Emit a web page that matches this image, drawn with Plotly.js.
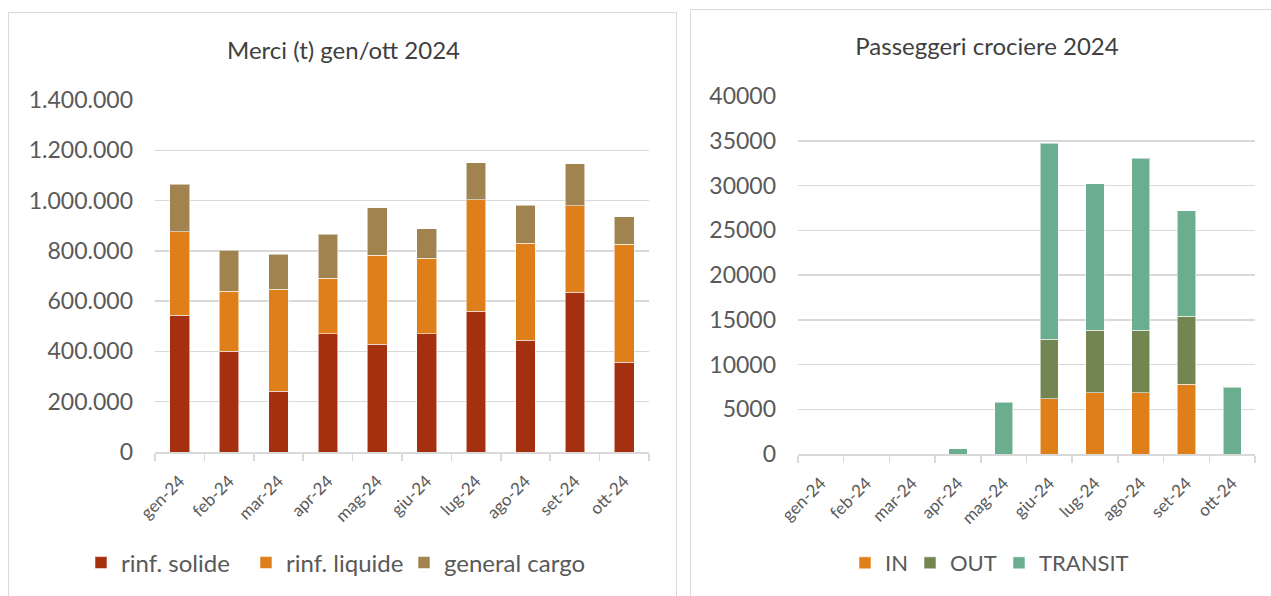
<!DOCTYPE html>
<html>
<head>
<meta charset="utf-8">
<script src="https://cdn.plot.ly/plotly-3.0.1.min.js"></script>
<style>
html,body{margin:0;padding:0;width:1271px;height:596px;overflow:hidden;background:#fff;}
.frame{position:absolute;border:1.5px solid #d9d9d9;box-sizing:border-box;background:#fff;}
.plot{position:absolute;left:0;top:0;}
</style>
</head>
<body>
<div class="frame" style="left:8px;top:12px;width:669px;height:640px;"><div id="c1" class="plot" style="width:669px;height:640px;"></div></div>
<div class="frame" style="left:690px;top:9px;width:620px;height:640px;"><div id="c2" class="plot" style="width:620px;height:640px;"></div></div>
<script>
// ---- data ----
const months = ["gen-24","feb-24","mar-24","apr-24","mag-24","giu-24","lug-24","ago-24","set-24","ott-24"];
// Merci (t)
const rinfSolide  = [544000,401000,242000,471000,429000,471000,560000,445000,636000,357000];
const rinfLiquide = [333000,238000,405000,221000,353000,300000,444000,385000,343000,470000];
const generalCargo= [188000,164000,140000,175000,189000,117000,146000,152000,168000,109000];
// Passeggeri crociere
const paxIn      = [0,0,0,0,0,6200,6850,6850,7800,0];
const paxOut     = [0,0,0,0,0,6600,7000,7000,7600,0];
const paxTransit = [0,0,0,560,5800,21900,16350,19200,11800,7450];

const FONT = "Lato, 'Open Sans', sans-serif";
const TXT = "#595959";
const GRID = "#d9d9d9";

function bar(name, y, color, leg){
  return {type:"bar", name:name, x:months, y:y, legend:leg,
    marker:{color:color, line:{color:"rgba(255,255,255,0.55)", width:1}},
    hoverinfo:"skip"};
}
function legendAt(x, y, W, H, size){
  return {orientation:"h", x:x/W, xref:"container", xanchor:"left",
          y:1-y/H, yref:"container", yanchor:"middle",
          font:{family:FONT, size:size, color:TXT}, automargin:false,
          bgcolor:"rgba(0,0,0,0)", borderwidth:0};
}
function baseLayout(title, titleX, titleY, W, H, m, yr, dtick, fmt){
  return {
    width:W, height:H, margin:m, autosize:false,
    paper_bgcolor:"rgba(0,0,0,0)", plot_bgcolor:"rgba(0,0,0,0)",
    barmode:"stack", bargap:0.6, separators:",.",
    font:{family:FONT, color:TXT},
    title:{text:title, x:titleX, xref:"container", xanchor:"center",
           y:1-titleY/H, yref:"container", yanchor:"middle", automargin:false,
           font:{family:FONT, size:24, color:"#404040"}},
    xaxis:{type:"category", showgrid:false, showline:true, linecolor:GRID, linewidth:1.5,
           ticks:"outside", tickson:"boundaries", ticklen:7, tickcolor:GRID, tickwidth:1.5,
           tickangle:-45, ticklabelstandoff:11,
           tickfont:{family:FONT, size:17, color:TXT}, fixedrange:true, automargin:false},
    yaxis:{range:yr, dtick:dtick, tick0:0, showgrid:true, gridcolor:GRID, gridwidth:1.5,
           zeroline:false, showline:false, ticks:"", tickformat:fmt, ticklabelstandoff:21,
           tickfont:{family:FONT, size:23, color:TXT}, fixedrange:true, automargin:false},
    showlegend:true
  };
}

// Chart 1
const W1=669, H1=640;
const L1 = baseLayout("Merci (t) gen/ott 2024", 0.5, 38, W1, H1,
  {l:146, r:W1-640, t:87, b:H1-439, pad:0}, [0,1400000], 200000, ",d");
L1.legend  = legendAt(72, 550, W1, H1, 24);
L1.legend2 = legendAt(237, 550, W1, H1, 24);
L1.legend3 = legendAt(395, 550, W1, H1, 24);
Plotly.newPlot("c1", [
  bar("rinf. solide", rinfSolide, "#A5300F", "legend"),
  bar("rinf. liquide", rinfLiquide, "#DF7F1A", "legend2"),
  bar("general cargo", generalCargo, "#A0834F", "legend3")
], L1, {displayModeBar:false, staticPlot:true});

// Chart 2
const W2=620, H2=640;
const L2 = baseLayout("Passeggeri crociere 2024", 296/W2, 37, W2, H2,
  {l:107, r:W2-564, t:86, b:H2-444, pad:0}, [0,40000], 5000, "d");
L2.legend  = legendAt(154, 553, W2, H2, 22);
L2.legend2 = legendAt(219, 553, W2, H2, 22);
L2.legend3 = legendAt(308, 553, W2, H2, 22);
Plotly.newPlot("c2", [
  bar("IN", paxIn, "#DF7F1A", "legend"),
  bar("OUT", paxOut, "#738651", "legend2"),
  bar("TRANSIT", paxTransit, "#6AAE8F", "legend3")
], L2, {displayModeBar:false, staticPlot:true});
</script>
</body>
</html>
